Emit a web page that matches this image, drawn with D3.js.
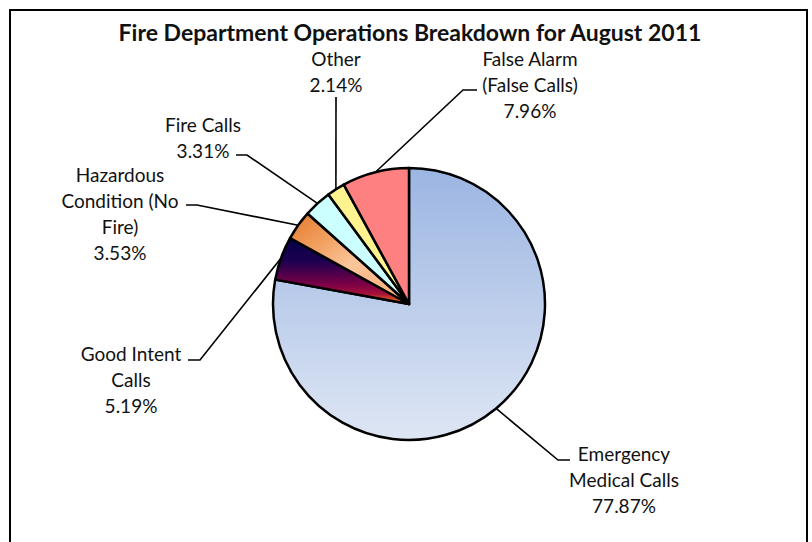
<!DOCTYPE html>
<html lang="en">
<head>
<meta charset="UTF-8">
<title>Fire Department Operations Breakdown</title>
<script src="https://d3js.org/d3.v7.min.js"></script>
<style>
  body { margin: 0; background: #fff; }
  svg text { font-family: Lato, "Open Sans", sans-serif; fill: #111; }
</style>
</head>
<body>
<svg id="chart" width="812" height="542"></svg>
<script>
  // Data
  const categories = ["Emergency Medical Calls", "Good Intent Calls", "Hazardous Condition (No Fire)",
                      "Fire Calls", "Other", "False Alarm (False Calls)"];
  const values = [77.87, 5.19, 3.53, 3.31, 2.14, 7.96];
  const labelLines = [
    ["Emergency", "Medical Calls"],
    ["Good Intent", "Calls"],
    ["Hazardous", "Condition (No", "Fire)"],
    ["Fire Calls"],
    ["Other"],
    ["False Alarm", "(False Calls)"]
  ];
  const title = "Fire Department Operations Breakdown for August 2011";

  // Layout of the labels (text centre, leader elbow, leader end)
  const labelLayout = [
    { x: 624, y: 453, elbow: [558, 460], end: [570, 460] },
    { x: 131, y: 353, elbow: [200, 360], end: [188, 360] },
    { x: 120, y: 174, elbow: [197, 205], end: [186, 205] },
    { x: 203, y: 124, elbow: [247, 155], end: [236, 155] },
    { x: 336, y: 58,  elbow: [336, 97],  end: null },
    { x: 530, y: 58,  elbow: [463, 90],  end: [477, 90] }
  ];
  const lineH = 26.3;

  const svg = d3.select("#chart");
  const cx = 409, cy = 304, r = 136;

  // Gradients
  const defs = svg.append("defs");
  function grad(id, x2, y2, stops) {
    const g = defs.append("linearGradient").attr("id", id)
      .attr("x1", 0).attr("y1", 0).attr("x2", x2).attr("y2", y2);
    stops.forEach(s => g.append("stop").attr("offset", s[0]).attr("stop-color", s[1]));
  }
  grad("gBlue", 0, 1, [[0, "#9bb5e2"], [1, "#dee6f4"]]);
  grad("gNight", 0, 1, [[0, "#060048"], [0.35, "#1c0050"], [0.7, "#7a0046"], [0.85, "#a8103a"], [1, "#ff8a00"]]);
  grad("gOrange", 0.9, 0.9, [[0, "#e4782a"], [0.35, "#f2a466"], [0.6, "#fcc69b"], [1, "#f9b07a"]]);

  const fills = ["url(#gBlue)", "url(#gNight)", "url(#gOrange)", "#ccffff", "#fff38f", "#ff8080"];

  // Border
  svg.append("rect")
    .attr("x", 10).attr("y", 10).attr("width", 797).attr("height", 545)
    .attr("fill", "none").attr("stroke", "#000").attr("stroke-width", 2);

  // Title
  svg.append("text")
    .attr("x", 410).attr("y", 32)
    .attr("text-anchor", "middle").attr("dominant-baseline", "central")
    .style("font-size", "23px").style("font-weight", "bold")
    .text(title);

  const pie = d3.pie().sort(null).value(d => d);
  const arcs = pie(values);
  const arc = d3.arc().innerRadius(0).outerRadius(r);

  const g = svg.append("g").attr("transform", `translate(${cx},${cy})`);

  g.selectAll("path.slice")
    .data(arcs)
    .enter()
    .append("path")
    .attr("class", "slice")
    .attr("d", arc)
    .attr("fill", (d, i) => fills[i])
    .attr("stroke", "#000")
    .attr("stroke-width", 2.5)
    .attr("stroke-linejoin", "round");

  // Leader lines and labels
  const fmt = d3.format(".2f");
  arcs.forEach((d, i) => {
    const mid = (d.startAngle + d.endAngle) / 2;
    const px = cx + Math.sin(mid) * r;
    const py = cy - Math.cos(mid) * r;
    const L = labelLayout[i];
    const pts = [[px, py], L.elbow];
    if (L.end) pts.push(L.end);
    svg.append("path")
      .attr("d", d3.line()(pts))
      .attr("fill", "none").attr("stroke", "#000").attr("stroke-width", 1.6);

    const lines = labelLines[i].concat([fmt(values[i]) + "%"]);
    const t = svg.append("text")
      .attr("text-anchor", "middle")
      .style("font-size", "19px");
    lines.forEach((ln, k) => {
      t.append("tspan")
        .attr("x", L.x)
        .attr("y", L.y + k * lineH)
        .attr("dominant-baseline", "central")
        .text(ln);
    });
  });
</script>
</body>
</html>
